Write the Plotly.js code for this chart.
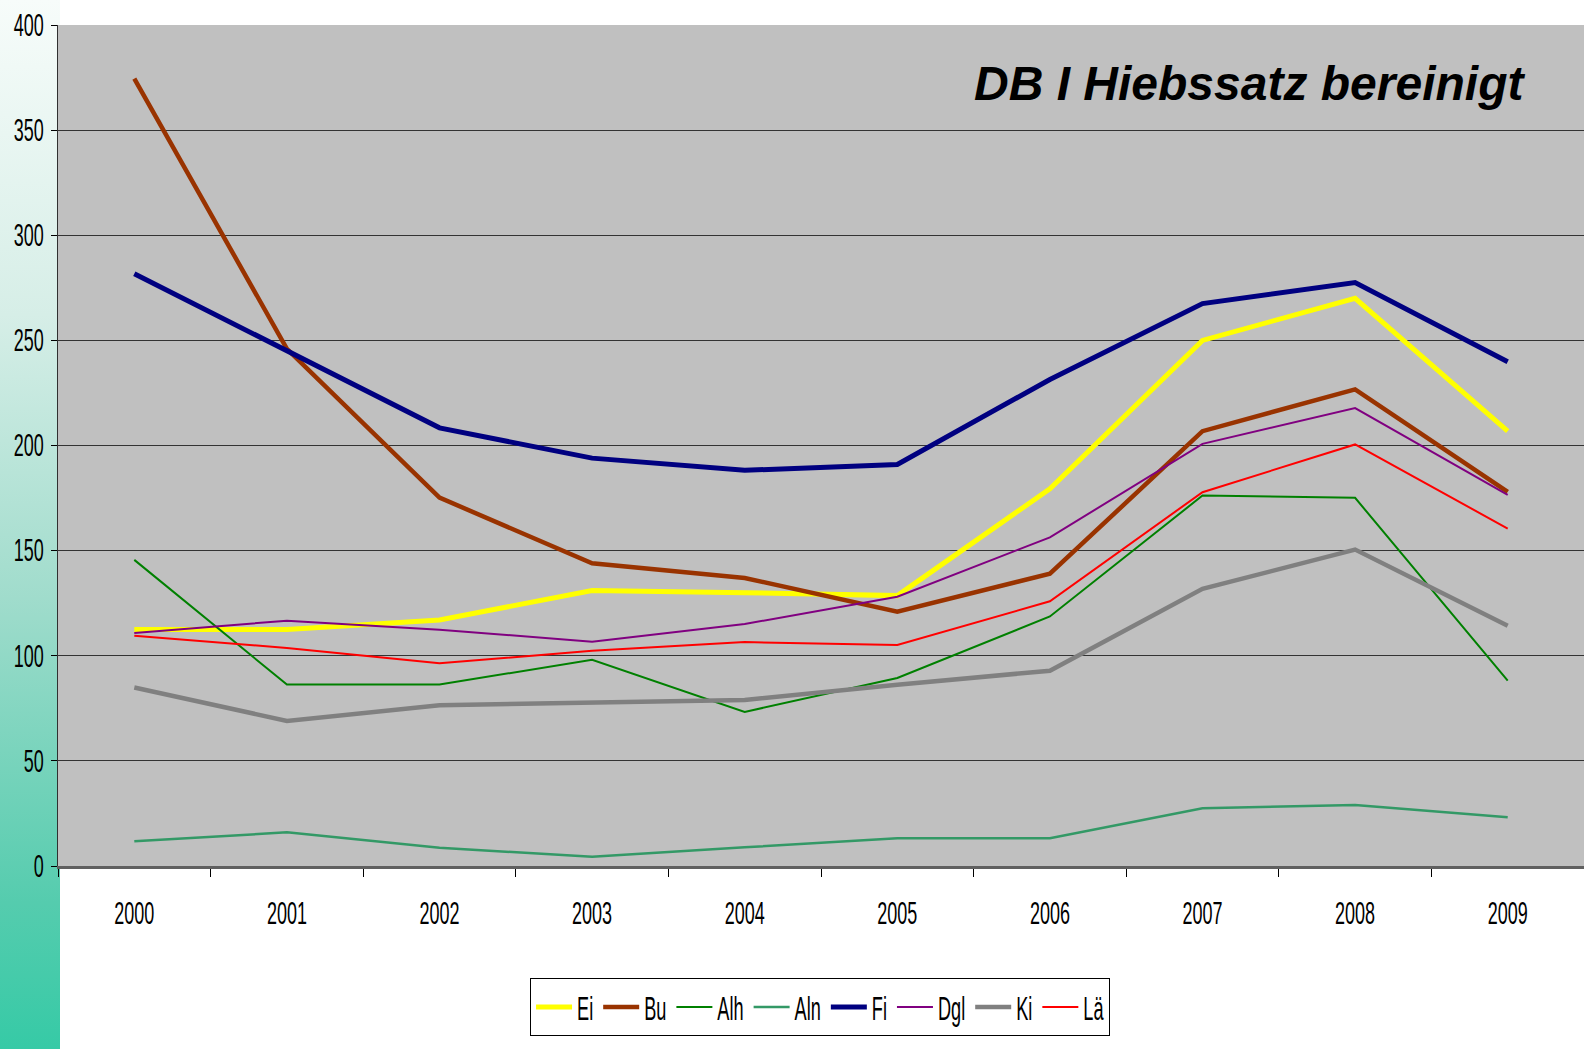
<!DOCTYPE html>
<html>
<head>
<meta charset="utf-8">
<script src="https://cdn.plot.ly/plotly-3.0.1.min.js"></script>
<style>
  html, body { margin: 0; padding: 0; background: #ffffff; }
  #wrap {
    width: 1584px; height: 1049px; position: relative;
    background:
      linear-gradient(to bottom, #f7fcfa 0%, #d6eee7 30%, #a0dccc 57%, #55ccae 86%, #36caa6 100%) no-repeat left top / 60px 100%,
      #ffffff;
  }
  #chart { width: 1584px; height: 1049px; }
  /* condensed look of the original legend labels */
  .legendtext { transform: scaleX(0.55); transform-box: fill-box; transform-origin: left center; }
</style>
</head>
<body>
<div id="wrap"><div id="chart"></div></div>
<script>
// ---- data ----
const years = ["2000","2001","2002","2003","2004","2005","2006","2007","2008","2009"];
const seriesNames = ["Ei","Bu","Alh","Aln","Fi","Dgl","Ki","Lä"];
const Ei  = [112.5, 112.5, 117, 131, 130, 128.6, 179.4, 250, 270, 206.8];
const Bu  = [374.5, 246, 175.2, 144, 137, 121, 139, 206.8, 226.7, 178];
const Alh = [145.6, 86.3, 86.3, 98.1, 73.3, 89.4, 118.7, 176.2, 175.1, 88.2];
const Aln = [11.8, 16, 8.7, 4.4, 8.9, 13.2, 13.2, 27.5, 29, 23.2];
const Fi  = [281.7, 245, 208.4, 194, 188.2, 191, 231.4, 267.5, 277.5, 239.8];
const Dgl = [110.8, 116.7, 112.4, 106.7, 115.1, 128.1, 156.3, 200.8, 217.8, 176.5];
const Ki  = [84.9, 69, 76.5, 78, 79, 86.2, 92.9, 131.8, 150.5, 114.3];
const La  = [109.5, 103.7, 96.4, 102.4, 106.5, 105.1, 125.9, 177.8, 200.5, 160.5];
const yTicks = [0, 50, 100, 150, 200, 250, 300, 350, 400];
const chartTitle = "DB I Hiebssatz bereinigt";

// ---- styles ----
const seriesData = [Ei, Bu, Alh, Aln, Fi, Dgl, Ki, La];
const colors = ["#ffff00", "#993300", "#008000", "#339966", "#000080", "#800080", "#808080", "#ff0000"];
const widths = [5, 4.5, 2, 2.5, 5, 2, 4.5, 2];

const sans = "'Liberation Sans', Arial, sans-serif";
const condense = 0.58;

const traces = seriesNames.map((n, i) => ({
  type: "scatter",
  mode: "lines",
  name: n,
  x: years,
  y: seriesData[i],
  line: { color: colors[i], width: widths[i] },
  hoverinfo: "x+y+name"
}));

const layout = {
  width: 1584,
  height: 1049,
  paper_bgcolor: "rgba(0,0,0,0)",
  plot_bgcolor: "#c0c0c0",
  margin: { l: 58, r: 0, t: 25, b: 183, pad: 0 },
  showlegend: true,
  legend: {
    orientation: "h",
    xref: "container", yref: "container",
    x: 0.5177, xanchor: "center",
    y: 1 - 978 / 1049, yanchor: "top",
    bgcolor: "#ffffff",
    bordercolor: "#000000",
    borderwidth: 1,
    font: { family: sans, size: 33, color: "#000000" },
    itemwidth: 36,
    traceorder: "normal"
  },
  xaxis: {
    type: "category",
    range: [-0.5, 9.5],
    showgrid: false,
    zeroline: false,
    showline: true,
    linecolor: "#606060",
    linewidth: 3,
    ticks: "outside",
    tickson: "boundaries",
    ticklen: 8,
    tickcolor: "#000000",
    tickwidth: 1,
    ticklabelstandoff: 18,
    tickfont: { family: sans, size: 31, color: "#000000" },
    fixedrange: true
  },
  yaxis: {
    range: [0, 400],
    tickvals: yTicks,
    ticktext: yTicks.map(String),
    showgrid: true,
    gridcolor: "#333333",
    gridwidth: 1,
    zeroline: false,
    showline: true,
    linecolor: "#303030",
    linewidth: 1,
    ticks: "outside",
    ticklen: 6,
    tickcolor: "#000000",
    ticklabelstandoff: 1,
    tickfont: { family: sans, size: 31, color: "#000000" },
    fixedrange: true
  },
  annotations: [{
    text: "<b><i>" + chartTitle + "</i></b>",
    xref: "paper", yref: "paper",
    x: 0.781, y: 0.93,
    xanchor: "center", yanchor: "middle",
    showarrow: false,
    font: { family: sans, size: 48, color: "#000000" }
  }]
};

function condenseTicks(gd) {
  gd.querySelectorAll(".xtick text, .ytick text").forEach(t => {
    const base = t.getAttribute("data-base-transform") ?? (t.getAttribute("transform") || "");
    t.setAttribute("data-base-transform", base);
    const x = parseFloat(t.getAttribute("x")) || 0;
    t.setAttribute("transform", base + " translate(" + x + ",0) scale(" + condense + ",1) translate(" + (-x) + ",0)");
  });
}

Plotly.newPlot("chart", traces, layout, { displayModeBar: false }).then(gd => {
  condenseTicks(gd);
});
</script>
</body>
</html>
